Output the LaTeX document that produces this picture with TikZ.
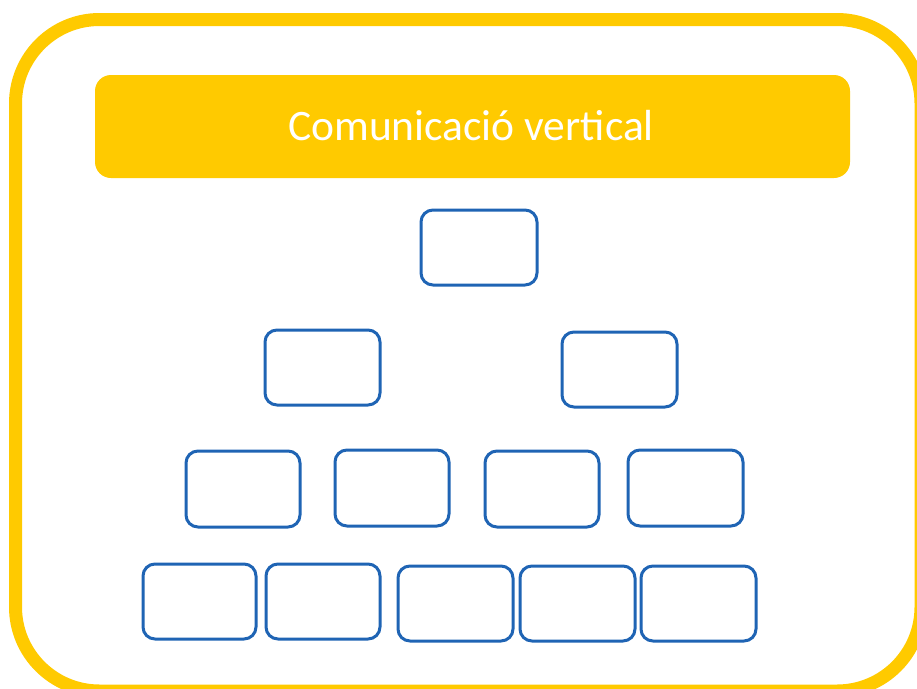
\documentclass[tikz,border=0pt]{standalone}
\usepackage{fontspec}
\setmainfont{Carlito}
\definecolor{ygold}{HTML}{FFCA00}
\definecolor{bblue}{HTML}{1F64B4}
\begin{document}
\begin{tikzpicture}[x=1pt,y=-1pt,
  orgbox/.style={draw=bblue, line width=3pt, rounded corners=12pt, fill=white},
  titlebar/.style={fill=ygold, rounded corners=16pt}]
\useasboundingbox (0,0) rectangle (917,688);
\begin{scope}
\clip (0,0) rectangle (917,688);
\draw[ygold, line width=13pt, rounded corners=84pt] (15.5,19.5) rectangle (921,691);
\end{scope}
\fill[titlebar] (95,75) rectangle (850,178);
\node[anchor=base, text=white, font=\fontsize{43.5}{50}\selectfont, inner sep=0pt] (title) at (471,140) {Comunicació vertical};
% row 1
\draw[orgbox] (421,210) rectangle (537,285) node[midway] (b11) {};
% row 2
\draw[orgbox] (265,330) rectangle (380,405) node[midway] (b21) {};
\draw[orgbox] (562,332) rectangle (677,407) node[midway] (b22) {};
% row 3
\draw[orgbox] (186,451) rectangle (300,527) node[midway] (b31) {};
\draw[orgbox] (335,450) rectangle (449,526) node[midway] (b32) {};
\draw[orgbox] (485,451) rectangle (599,527) node[midway] (b33) {};
\draw[orgbox] (628,450) rectangle (743,526) node[midway] (b34) {};
% row 4
\draw[orgbox] (143,564) rectangle (256,639) node[midway] (b41) {};
\draw[orgbox] (266,564) rectangle (380,639) node[midway] (b42) {};
\draw[orgbox] (398,566) rectangle (513,641) node[midway] (b43) {};
\draw[orgbox] (520,566) rectangle (635,641) node[midway] (b44) {};
\draw[orgbox] (641,566) rectangle (756,641) node[midway] (b45) {};
\end{tikzpicture}
\end{document}
